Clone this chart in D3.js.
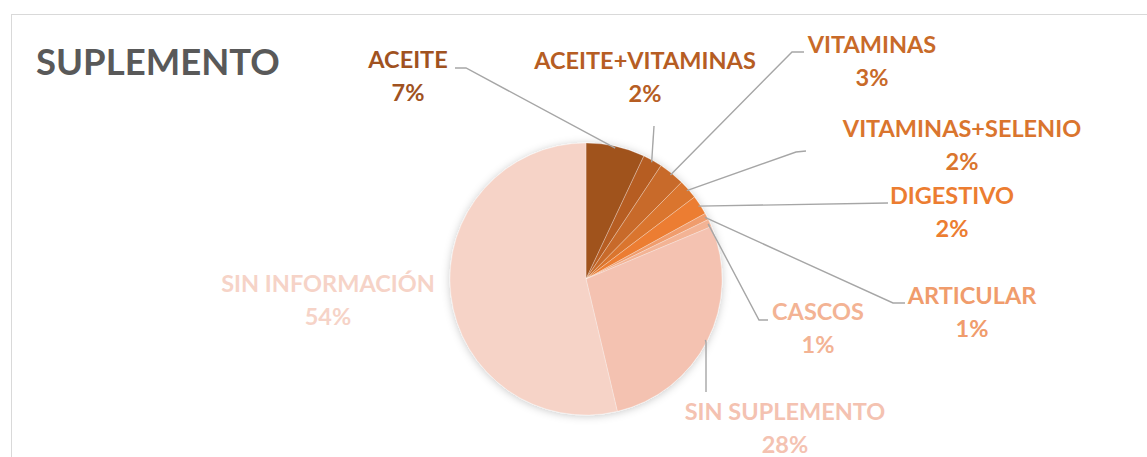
<!DOCTYPE html>
<html>
<head>
<meta charset="utf-8">
<script src="https://cdn.jsdelivr.net/npm/d3@7"></script>
<style>
  body { margin: 0; background: #fff; }
  svg { display: block; font-family: Lato, "Open Sans", sans-serif; }
</style>
</head>
<body>
<svg width="1147" height="457"></svg>
<script>
// data (slices clockwise from 12 o'clock)
const categories = ["ACEITE", "ACEITE+VITAMINAS", "VITAMINAS", "VITAMINAS+SELENIO",
  "DIGESTIVO", "ARTICULAR", "CASCOS", "SIN SUPLEMENTO", "SIN INFORMACIÓN"];
const values = [7.0, 2.3, 3.1, 2.3, 2.3, 0.8, 0.9, 27.6, 53.7];
const colors = ["#a0521f", "#b65d23", "#c86a29", "#da752e", "#ec7d31",
  "#f09c6c", "#f3b394", "#f4c2b1", "#f6d3c7"];

// label anchor (centre of label text) and leader line elbow
const labelPos = [
  { x: 408, y: 60, elbow: [[455, 68], [466, 68]] },
  { x: 645, y: 61, elbow: [[654, 126]] },
  { x: 872, y: 45, elbow: [[804, 52], [792, 52]] },
  { x: 962, y: 129, elbow: [[806, 151], [796, 152]] },
  { x: 952, y: 196, elbow: [[888, 203]] },
  { x: 972, y: 296, elbow: [[905, 303], [893, 303]] },
  { x: 818, y: 312, elbow: [[768, 320], [759, 320]] },
  { x: 785, y: 412, elbow: [[706, 392], [706, 342]] },
  { x: 328, y: 284, elbow: null }
];

const svg = d3.select("svg");
const cx = 586, cy = 279, r = 136;

// chart frame
svg.append("rect")
  .attr("x", 11.5).attr("y", 14.5)
  .attr("width", 1160).attr("height", 460)
  .attr("fill", "#fff")
  .attr("stroke", "#d9d9d9");

svg.append("text")
  .attr("x", 36).attr("y", 75)
  .attr("font-size", 36.5).attr("font-weight", 700)
  .attr("fill", "#595959")
  .text("SUPLEMENTO");

const defs = svg.append("defs");
const f = defs.append("filter").attr("id", "shadow")
  .attr("x", "-20%").attr("y", "-20%").attr("width", "140%").attr("height", "140%");
f.append("feDropShadow")
  .attr("dx", 0).attr("dy", 1).attr("stdDeviation", 4)
  .attr("flood-color", "#000").attr("flood-opacity", 0.22);

const total = d3.sum(values);
const data = categories.map((c, i) => ({ name: c, value: values[i], color: colors[i], pos: labelPos[i] }));
const pie = d3.pie().value(d => d.value).sort(null);
const arcs = pie(data);
const arc = d3.arc().innerRadius(0).outerRadius(r);

const g = svg.append("g").attr("transform", `translate(${cx},${cy})`);

g.append("g").attr("filter", "url(#shadow)")
  .selectAll("path")
  .data(arcs)
  .join("path")
    .attr("d", arc)
    .attr("fill", d => d.data.color)
    .attr("stroke", "#ffffff")
    .attr("stroke-opacity", 0.35)
    .attr("stroke-width", 0.8);

// leader lines: from slice edge to the label elbow
const edgeArc = d3.arc().innerRadius(r - 2).outerRadius(r - 2);
arcs.forEach(a => {
  const p = a.data.pos;
  if (!p.elbow) return;
  const c = edgeArc.centroid(a);
  const pts = [[cx + c[0], cy + c[1]], ...p.elbow.slice().reverse()];
  svg.append("path")
    .attr("d", d3.line()(pts))
    .attr("fill", "none")
    .attr("stroke", "#a6a6a6")
    .attr("stroke-width", 1.4);
});

// labels
const lbl = svg.append("g").attr("font-weight", 700).attr("font-size", 23.5)
  .attr("text-anchor", "middle");
data.forEach(d => {
  const t = lbl.append("text").attr("fill", d.color);
  t.append("tspan").attr("x", d.pos.x).attr("y", d.pos.y + 8).text(d.name);
  t.append("tspan").attr("x", d.pos.x).attr("y", d.pos.y + 41)
    .text(Math.round(d.value / total * 100) + "%");
});
</script>
</body>
</html>
